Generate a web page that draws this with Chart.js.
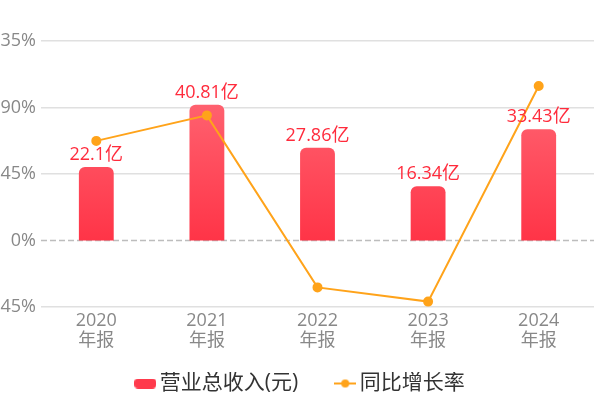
<!DOCTYPE html>
<html>
<head>
<meta charset="utf-8">
<script src="https://cdn.jsdelivr.net/npm/chart.js@4.4.1/dist/chart.umd.min.js"></script>
<style>
  html, body { margin: 0; padding: 0; background: #fff; }
  #wrap { width: 600px; height: 398px; }
</style>
</head>
<body>
<div id="wrap"><canvas id="myChart"></canvas></div>
<script>
// 营业总收入 + 同比增长率
const years = ['2020', '2021', '2022', '2023', '2024'];
const revenue = [22.1, 40.81, 27.86, 16.34, 33.43]; // 亿
const growth = [67.4, 84.66, -31.73, -41.35, 104.59]; // %
const pctTicks = [-45, 0, 45, 90, 135];

const FONT = "'Open Sans', 'Noto Sans CJK SC', sans-serif";

// legend icons
function barIcon() {
  const c = document.createElement('canvas');
  c.width = 22; c.height = 10;
  const x = c.getContext('2d');
  x.fillStyle = '#ff3a4c';
  x.beginPath();
  x.roundRect(0, 0, 22, 10, 4);
  x.fill();
  return c;
}
function lineIcon() {
  const c = document.createElement('canvas');
  c.width = 22; c.height = 10;
  const x = c.getContext('2d');
  x.strokeStyle = '#ffa31a';
  x.lineWidth = 2;
  x.beginPath(); x.moveTo(0, 5); x.lineTo(22, 5); x.stroke();
  x.fillStyle = '#ffa31a';
  x.beginPath(); x.arc(11, 5, 4, 0, Math.PI * 2); x.fill();
  return c;
}
const legendIcons = [barIcon(), lineIcon()];
const legendGap = ['\u3000\u3000', ''];

const ctx = document.getElementById('myChart');

const zeroLine = {
  id: 'zeroLine',
  beforeDatasetsDraw(chart) {
    const y = chart.scales.y.getPixelForValue(0);
    const { left, right } = chart.chartArea;
    const c = chart.ctx;
    c.save();
    c.strokeStyle = '#bdbdbd';
    c.lineWidth = 1.5;
    c.setLineDash([6, 3]);
    c.beginPath();
    c.moveTo(left, y);
    c.lineTo(right, y);
    c.stroke();
    c.restore();
  }
};

const barLabels = {
  id: 'barLabels',
  afterDatasetsDraw(chart) {
    const meta = chart.getDatasetMeta(0);
    const c = chart.ctx;
    c.save();
    c.fillStyle = '#ff2b3c';
    c.font = '18px ' + FONT;
    c.textAlign = 'center';
    c.textBaseline = 'bottom';
    meta.data.forEach((bar, i) => {
      c.fillText(revenue[i] + '亿', bar.x, bar.y - 3);
    });
    c.restore();
  }
};

new Chart(ctx, {
  data: {
    labels: years.map(y => [y, '年报']),
    datasets: [{
      type: 'bar',
      label: '营业总收入(元)',
      data: revenue,
      yAxisID: 'y1',
      order: 1,
      barPercentage: 0.63,
      categoryPercentage: 0.5,
      borderRadius: { topLeft: 6, topRight: 6 },
      borderSkipped: 'bottom',
      backgroundColor: function (c) {
        const chart = c.chart;
        const area = chart.chartArea;
        if (!area) return '#ff4a5a';
        const y0 = chart.scales.y1.getPixelForValue(0);
        const g = chart.ctx.createLinearGradient(0, y0 - 140, 0, y0);
        g.addColorStop(0, '#ff6270');
        g.addColorStop(1, '#ff3447');
        return g;
      }
    }, {
      type: 'line',
      label: '同比增长率',
      data: growth,
      yAxisID: 'y',
      order: 0,
      borderColor: '#ffa31a',
      backgroundColor: '#ffa31a',
      borderWidth: 2,
      pointStyle: 'circle',
      pointRadius: 4,
      pointHoverRadius: 4,
      tension: 0
    }]
  },
  options: {
    responsive: true,
    maintainAspectRatio: false,
    animation: false,
    layout: { padding: { top: 41, right: -6, left: 0, bottom: -6 } },
    scales: {
      x: {
        grid: { display: false },
        border: { display: false },
        afterFit: (scale) => { scale.height = 65; },
        ticks: {
          color: '#888',
          font: { family: FONT, size: 18, lineHeight: 1.1 },
          padding: -4,
          maxRotation: 0
        }
      },
      y: {
        min: -45,
        max: 135,
        afterBuildTicks: (scale) => { scale.ticks = pctTicks.map(v => ({ value: v })); },
        afterFit: (scale) => { scale.width = 41; },
        border: { display: false },
        grid: {
          drawTicks: false,
          lineWidth: 1.5,
          color: (c) => c.tick && c.tick.value === 0 ? 'rgba(0,0,0,0)' : '#e0e0e0'
        },
        ticks: {
          color: '#888',
          padding: 5,
          font: { family: FONT, size: 18 },
          callback: (v) => v + '%'
        }
      },
      y1: {
        position: 'right',
        min: -20,
        max: 60,
        afterFit: (scale) => { scale.width = 10; },
        grid: { display: false },
        border: { display: false },
        ticks: { display: false }
      }
    },
    plugins: {
      tooltip: { enabled: false },
      legend: {
        position: 'bottom',
        labels: {
          usePointStyle: true,
          pointStyleWidth: 8,
          boxHeight: 12,
          color: '#333',
          padding: 1,
          font: { family: FONT, size: 21 },
          generateLabels: (chart) => chart.data.datasets.map((ds, i) => ({
            text: ds.label + legendGap[i],
            pointStyle: legendIcons[i],
            fillStyle: '#fff',
            strokeStyle: '#fff',
            lineWidth: 0,
            fontColor: '#333',
            datasetIndex: i,
            hidden: false
          }))
        }
      }
    }
  },
  plugins: [zeroLine, barLabels]
});
</script>
</body>
</html>
